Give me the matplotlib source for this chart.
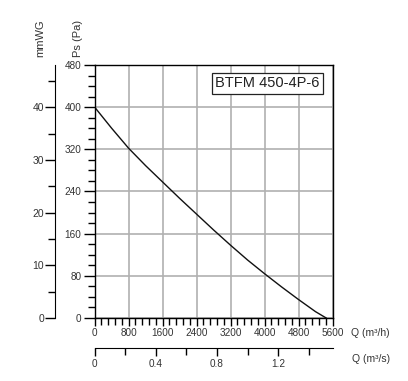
import numpy as np
import matplotlib.pyplot as plt
from matplotlib.ticker import MultipleLocator

plt.rcParams['font.family'] = ['Liberation Sans', 'DejaVu Sans']

# fan curve
flow_m3h = [0, 400, 800, 1200, 1600, 2000, 2400, 2800, 3200, 3600, 4000, 4400, 4800, 5200, 5450]
ps_pa = [400, 360, 322, 289, 258, 227, 197, 167, 138, 110, 84, 59, 35, 12, 0]

model = 'BTFM 450-4P-6'
x_max = 5600
y_max = 480
txt = '#333333'

fig = plt.figure(figsize=(4.08, 3.81), dpi=100)

# main chart
ax = fig.add_axes([0.232, 0.1654, 0.583, 0.664])
ax.plot(flow_m3h, ps_pa, color='#111111', lw=1.0)
ax.set_xlim(0, x_max)
ax.set_ylim(0, y_max)
ax.xaxis.set_major_locator(MultipleLocator(800))
ax.xaxis.set_minor_locator(MultipleLocator(160))
ax.yaxis.set_major_locator(MultipleLocator(80))
ax.yaxis.set_minor_locator(MultipleLocator(20))
ax.grid(True, which='major', color='#b0b0b0', lw=1.2)
ax.tick_params(which='major', length=8, width=1, labelsize=7.2, labelcolor=txt, pad=1.5)
ax.tick_params(which='minor', length=5, width=1)
ax.tick_params(axis='x', which='major', length=6, pad=1)
for s in ax.spines.values():
    s.set_linewidth(1.0)
ax.text(4073, 445, model, fontsize=10.5, color='#222222', ha='center', va='center',
        bbox=dict(boxstyle='square,pad=0.25', fc='white', ec='#222222', lw=0.9))
fig.text(0.19, 0.90, 'Ps (Pa)', fontsize=8, color=txt, rotation=90, ha='center', va='center')
fig.text(0.86, 0.126, 'Q (m³/h)', fontsize=7.5, color=txt, ha='left', va='center')

# mmWG axis on the left
ax2 = fig.add_axes([0.135, 0.1654, 0.001, 0.664])
ax2.set_ylim(0, y_max / 10)
ax2.set_xticks([])
for k in ['top', 'right', 'bottom']:
    ax2.spines[k].set_visible(False)
ax2.yaxis.set_major_locator(MultipleLocator(10))
ax2.yaxis.set_minor_locator(MultipleLocator(5))
ax2.tick_params(which='major', length=7, width=1, labelsize=7.5, labelcolor=txt, pad=1)
ax2.tick_params(which='minor', length=5, width=1)
ax2.patch.set_visible(False)
fig.text(0.098, 0.90, 'mmWG', fontsize=8, color=txt, rotation=90, ha='center', va='center')

# Q in m3/s below
ax3 = fig.add_axes([0.232, 0.0866, 0.583, 0.001])
ax3.set_xlim(0, x_max / 3600)
ax3.set_yticks([])
for k in ['top', 'right', 'left']:
    ax3.spines[k].set_visible(False)
ax3.xaxis.set_minor_locator(MultipleLocator(0.2))
ax3.set_xticks([0, 0.4, 0.8, 1.2])
ax3.set_xticklabels(['0', '0.4', '0.8', '1.2'])
ax3.tick_params(which='major', length=6, width=1, labelsize=7.2, labelcolor=txt, pad=2)
ax3.tick_params(which='minor', length=5, width=1)
ax3.patch.set_visible(False)
fig.text(0.862, 0.058, 'Q (m³/s)', fontsize=7.5, color=txt, ha='left', va='center')

fig.savefig('out.png', dpi=100)
